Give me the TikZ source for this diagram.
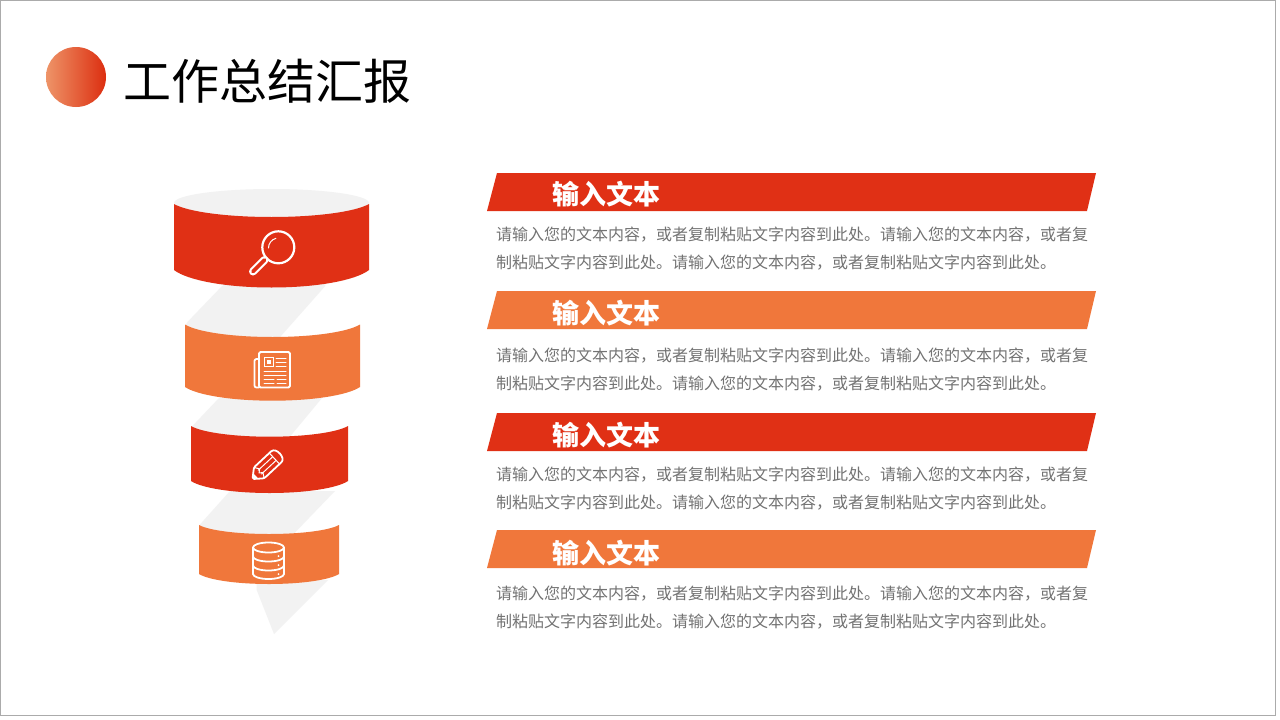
\documentclass[tikz,border=0pt]{standalone}
\usepackage{fontspec}
\setmainfont{Noto Sans CJK SC}
\usepackage{tikz}
\usetikzlibrary{positioning}

\definecolor{hotred}{HTML}{E03015}
\definecolor{warmorange}{HTML}{F0773B}
\definecolor{palegrey}{HTML}{F2F2F2}
\definecolor{copygrey}{HTML}{737373}
\definecolor{framegrey}{HTML}{ABABAB}
\definecolor{dotstart}{HTML}{EE9468}
\definecolor{dotend}{HTML}{DC2E10}

\newcommand{\blocktext}{请输入您的文本内容，或者复制粘贴文字内容到此处。请输入您的文本内容，或者复\\制粘贴文字内容到此处。请输入您的文本内容，或者复制粘贴文字内容到此处。}

\tikzset{
	titletext/.style={anchor=west,inner sep=0pt,text=black,font=\fontsize{48}{48}\selectfont},
	headtext/.style={inner sep=0pt,text=white,font=\fontsize{27}{27}\selectfont\bfseries},
	copytext/.style={anchor=west,inner sep=0pt,align=left,text=copygrey,font=\fontsize{16}{28}\selectfont},
	icon/.style={draw=white,line width=1.8pt,line join=round,line cap=round},
	iconthin/.style={draw=white,line width=1pt,line cap=round},
}

\begin{document}
\begin{tikzpicture}[x=1pt,y=-1pt]
		\useasboundingbox (0,0) rectangle (1280,720);
		\fill[white] (0,0) rectangle (1280,720);
		\draw[framegrey,line width=1.2pt] (0.5,0.5) rectangle (1275.5,715.5);
		
		% Kopfzeile
		\shade[left color=dotstart,right color=dotend] (76,77) circle (30);
		\node[titletext] (title) at (123,81) {工作总结汇报};
		
		% graues Band
		\fill[palegrey] (271.5,203) ellipse [x radius=97.5,y radius=14];
		\fill[palegrey,rounded corners=3pt] (224,284) -- (185.5,324) -- (186,345) -- (273,345) -- (327,284) -- cycle;
		\fill[palegrey] (219,398) -- (191.5,427) -- (191.5,445) -- (283,445) -- (322,398) -- cycle;
		\fill[palegrey] (230,491) -- (199.5,525) -- (199.5,545) -- (283,545) -- (335,491) -- cycle;
		\fill[palegrey] (256.7,580) -- (256.7,590) -- (274,634) -- (328,580) -- cycle;
		
		% Zylinder
		\fill[hotred] (174,204) .. controls (187.65,211.8) and (226.65,217) .. (271.5,217) .. controls (316.35,217) and (355.35,211.8) .. (369,204) -- (369,270) .. controls (355.35,280.5) and (316.35,287.5) .. (271.5,287.5) .. controls (226.65,287.5) and (187.65,280.5) .. (174,270) -- cycle;
		\fill[warmorange] (185,324.5) .. controls (197.25,332) and (232.25,337) .. (272.5,337) .. controls (312.75,337) and (347.75,332) .. (360,324.5) -- (360,387) .. controls (347.75,395.2) and (312.75,400.7) .. (272.5,400.7) .. controls (232.25,400.7) and (197.25,395.2) .. (185,387) -- cycle;
		\fill[hotred] (191,426) .. controls (202,432.4) and (233.4,436.7) .. (269.5,436.7) .. controls (305.6,436.7) and (337,432.4) .. (348,426) -- (348,481) .. controls (337,488.2) and (305.6,493) .. (269.5,493) .. controls (233.4,493) and (202,488.2) .. (191,481) -- cycle;
		\fill[warmorange] (199,525) .. controls (208.8,530.4) and (236.8,534) .. (269,534) .. controls (301.2,534) and (329.2,530.4) .. (339,525) -- (339,574) .. controls (329.2,580) and (301.2,584) .. (269,584) .. controls (236.8,584) and (208.8,580) .. (199,574) -- cycle;
		
		% Lupe
		\draw[icon,line width=2.2pt] (278.3,247.3) circle (16);
		\draw[iconthin] (268.5,248) arc [start angle=180,end angle=255,radius=10];
		\draw[white,line width=2.2pt] (267,257.5) -- (264.5,260);
		\draw[white,line width=8pt,line cap=round] (264.5,260) -- (253,271.5);
		\draw[hotred,line width=3.8pt,line cap=round] (264.5,260) -- (253,271.5);
		
		% Zeitung
		\draw[icon,rounded corners=1.5pt] (259,352) -- (290,352) -- (290,387.5) -- (259,387.5) -- cycle;
		\draw[icon,rounded corners=2pt] (259,359) -- (254.5,359) -- (254.5,387.5) -- (259,387.5);
		\draw[iconthin] (264,357) rectangle (273,366);
		\fill[white] (266.5,359.5) rectangle (270.5,363.5);
		\draw[iconthin] (276,358) -- (286,358);
		\draw[iconthin] (276,362) -- (286,362);
		\draw[iconthin] (276,366) -- (286,366);
		\draw[iconthin] (264,371) -- (286,371);
		\draw[iconthin] (264,375) -- (286,375);
		\draw[iconthin] (264,379) -- (274,379);
		\draw[iconthin] (277,379) -- (286,379);
		\draw[iconthin] (264,383) -- (274,383);
		\draw[iconthin] (277,383) -- (286,383);
		
		% Stift
		\begin{scope}[shift={(252.5,479)},rotate=43]
			\draw[icon,rounded corners=1.5pt] (0,0) -- (9,-7.5) -- (31,-7.5) .. controls (39,-7.5) and (39,7.5) .. (31,7.5) -- (9,7.5) -- cycle;
			\draw[iconthin] (30,-7.5) -- (30,7.5);
			\draw[iconthin] (10,-2.5) -- (30,-2.5);
			\draw[iconthin] (10,2.5) -- (30,2.5);
			\draw[iconthin] (9,-7.5) -- (12,-2.5) -- (9,0) -- (12,2.5) -- (9,7.5);
			\fill[white] (0.5,0) -- (4.5,-3) -- (4.5,3) -- cycle;
		\end{scope}
		
		% Datenbank
		\draw[icon] (268.5,547.5) ellipse [x radius=15.5,y radius=5];
		\draw[icon] (253,547.5) -- (253,574) arc [start angle=180,end angle=0,x radius=15.5,y radius=5] -- (284,547.5);
		\draw[icon] (253,556.5) arc [start angle=180,end angle=0,x radius=15.5,y radius=5];
		\draw[icon] (253,565.5) arc [start angle=180,end angle=0,x radius=15.5,y radius=5];
		\fill[white] (278.5,556) circle (1);
		\fill[white] (278.5,565) circle (1);
		\fill[white] (278.5,574) circle (1);
		
		% Balken
		\fill[hotred] (497,173) -- (1096,173) -- (1087,211) -- (487,211) -- cycle;
		\fill[warmorange] (497,291) -- (1096,291) -- (1087,329) -- (487,329) -- cycle;
		\fill[hotred] (497,413) -- (1096,413) -- (1087,451) -- (487,451) -- cycle;
		\fill[warmorange] (497,530) -- (1096,530) -- (1087,568) -- (487,568) -- cycle;
		
		% Texte
		\node[headtext] (headone) at (606,194.5) {输入文本};
		\node[headtext] (headtwo) at (606,313) {输入文本};
		\node[headtext] (headthree) at (606,435) {输入文本};
		\node[headtext] (headfour) at (606,553) {输入文本};
		\node[copytext] (copyone) at (496,249) {\blocktext};
		\node[copytext] (copytwo) at (496,370) {\blocktext};
		\node[copytext] (copythree) at (496,489) {\blocktext};
		\node[copytext] (copyfour) at (496,608) {\blocktext};
\end{tikzpicture}
\end{document}
